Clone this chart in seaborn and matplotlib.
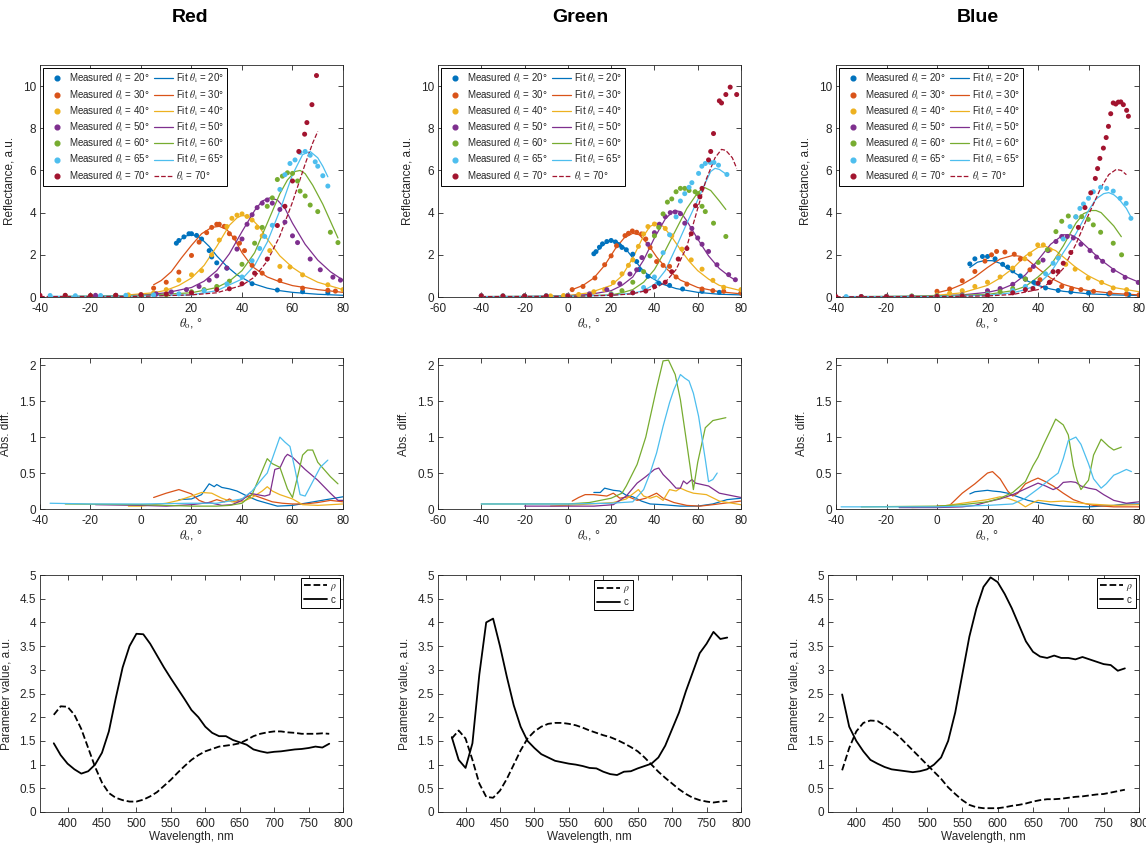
import matplotlib
matplotlib.use('Agg')
import matplotlib.pyplot as plt
import seaborn as sns
from matplotlib.ticker import FormatStrFormatter, MultipleLocator
from matplotlib.lines import Line2D

# ---------------- categories ----------------
channels = ['Red', 'Green', 'Blue']
angles = [20, 30, 40, 50, 60, 65, 70]
colors = ['#0072BD', '#D95319', '#EDB120', '#7E2F8E', '#77AC30', '#4DBEEE', '#A2142F']

# ---------------- RED: measured / fit ----------------
r20_mx = [14, 15, 17, 19, 20, 22, 24, 27, 28, 30, 34, 44, 54, 64, 74]
r20_my = [2.55, 2.68, 2.85, 3.0, 3.0, 2.92, 2.75, 2.2, 1.9, 1.62, 1.37, 0.63, 0.33, 0.25, 0.2]
r20_fx = [14, 16, 18, 20, 22, 24, 27, 30, 34, 38, 44, 50, 55, 60, 70, 80]
r20_fy = [2.5, 2.75, 2.9, 2.95, 2.9, 2.75, 2.4, 1.95, 1.45, 1.05, 0.65, 0.42, 0.3, 0.22, 0.13, 0.08]
r30_mx = [5, 10, 15, 20, 23, 26, 28, 30, 31, 33, 35, 37, 39, 41, 44, 48, 55, 64, 74, 77]
r30_my = [0.42, 0.7, 1.18, 1.97, 2.6, 3.05, 3.3, 3.45, 3.45, 3.35, 3.0, 2.8, 2.55, 2.2, 1.5, 1.13, 0.78, 0.42, 0.32, 0.28]
r30_fx = [5, 8, 12, 16, 20, 24, 28, 31, 34, 37, 40, 44, 50, 55, 60, 70, 80]
r30_fy = [0.58, 0.78, 1.2, 1.85, 2.45, 3.0, 3.3, 3.35, 3.2, 2.75, 2.1, 1.45, 0.95, 0.72, 0.54, 0.35, 0.22]
r40_mx = [-5, 0, 5, 10, 15, 20, 24, 28, 31, 34, 36, 38, 40, 42, 44, 46, 48, 51, 55, 59, 64, 74, 80]
r40_my = [0.1, 0.12, 0.2, 0.35, 0.8, 1.05, 1.25, 2.0, 2.7, 3.34, 3.73, 3.88, 3.94, 3.82, 3.65, 3.3, 2.9, 2.2, 1.45, 1.42, 1.05, 0.58, 0.35]
r40_fx = [-5, 5, 10, 15, 20, 25, 30, 35, 38, 40, 43, 47, 50, 55, 60, 65, 70, 80]
r40_fy = [0.1, 0.2, 0.32, 0.55, 0.9, 1.5, 2.4, 3.4, 3.75, 3.87, 3.8, 3.3, 2.75, 1.95, 1.4, 1.0, 0.7, 0.35]
r50_mx = [-18, -10, 0, 6, 12, 18, 23, 27, 30, 34, 38, 40, 42, 44, 46, 48, 50, 52, 55, 57, 60, 62, 67, 71, 76, 79]
r50_my = [0.08, 0.08, 0.1, 0.15, 0.24, 0.35, 0.5, 0.8, 1.0, 1.37, 2.27, 2.75, 3.45, 3.9, 4.24, 4.45, 4.6, 4.45, 4.15, 3.55, 2.9, 2.58, 1.8, 1.29, 0.94, 0.8]
r50_fx = [-18, 0, 10, 20, 25, 30, 35, 40, 45, 48, 51, 54, 57, 60, 65, 70, 75, 80]
r50_fy = [0.03, 0.08, 0.2, 0.45, 0.75, 1.25, 2.05, 3.1, 4.1, 4.55, 4.7, 4.6, 4.2, 3.5, 2.5, 1.75, 1.2, 0.8]
r60_mx = [-30, -20, -10, 0, 10, 20, 25, 30, 35, 40, 45, 48, 50, 52, 54, 56, 58, 60, 62, 63, 65, 67, 70, 75, 78]
r60_my = [0.07, 0.06, 0.07, 0.07, 0.1, 0.25, 0.35, 0.5, 0.75, 1.55, 2.55, 3.3, 4.3, 4.7, 5.57, 5.73, 5.89, 5.86, 5.5, 5.02, 4.79, 4.36, 4.05, 3.07, 2.58]
r60_fx = [-30, 0, 20, 30, 35, 40, 45, 50, 55, 58, 61, 63, 65, 68, 72, 75, 78]
r60_fy = [0.03, 0.07, 0.2, 0.45, 0.75, 1.25, 2.1, 3.5, 4.9, 5.55, 5.95, 6.0, 5.85, 5.3, 4.4, 3.6, 2.8]
r65_mx = [-36, -26, -16, -6, 5, 15, 25, 34, 40, 44, 47, 49, 52, 55, 57, 59, 61, 63, 65, 67, 69, 70, 72, 74]
r65_my = [0.07, 0.06, 0.07, 0.08, 0.1, 0.15, 0.3, 0.62, 0.95, 1.72, 2.3, 2.87, 3.4, 5.1, 5.8, 6.33, 6.5, 6.85, 6.9, 6.72, 6.41, 6.2, 5.75, 5.26]
r65_fx = [-36, 0, 20, 30, 40, 45, 50, 55, 60, 64, 67, 70, 72, 74]
r65_fy = [0.03, 0.05, 0.1, 0.3, 0.85, 1.5, 2.6, 4.1, 5.8, 6.75, 6.9, 6.6, 6.2, 5.7]
r70_mx = [-40, -30, -20, -10, 0, 10, 20, 30, 35, 40, 45, 50, 54, 57, 60, 62.5, 64.8, 65.7, 67.7, 69.5]
r70_my = [0.08, 0.08, 0.07, 0.08, 0.1, 0.14, 0.2, 0.35, 0.39, 0.63, 1.13, 1.8, 3.39, 4.3, 5.5, 6.9, 7.72, 8.27, 9.12, 10.5]
r70_fx = [-40, 0, 20, 30, 40, 45, 50, 55, 60, 65, 68, 70]
r70_fy = [0.02, 0.03, 0.1, 0.2, 0.55, 0.95, 1.7, 2.9, 4.5, 6.3, 7.3, 7.85]

# ---------------- RED: abs diff ----------------
rd20_x = [15, 20, 24, 27, 29, 30, 32, 35, 38, 42, 46, 50, 54, 60, 65, 70, 75, 80]
rd20_y = [0.13, 0.14, 0.2, 0.35, 0.31, 0.34, 0.3, 0.28, 0.25, 0.18, 0.12, 0.08, 0.04, 0.05, 0.08, 0.11, 0.14, 0.17]
rd30_x = [5, 10, 15, 20, 23, 26, 30, 33, 35, 37, 40, 44, 48, 52, 56, 60, 65, 70, 75, 80]
rd30_y = [0.16, 0.22, 0.27, 0.21, 0.12, 0.08, 0.13, 0.1, 0.14, 0.1, 0.14, 0.2, 0.15, 0.1, 0.08, 0.07, 0.07, 0.09, 0.12, 0.1]
rd40_x = [-5, 0, 10, 15, 20, 24, 28, 32, 36, 40, 44, 48, 50, 52, 55, 60, 64, 70, 80]
rd40_y = [0.04, 0.04, 0.08, 0.12, 0.18, 0.23, 0.22, 0.15, 0.1, 0.1, 0.16, 0.25, 0.31, 0.25, 0.2, 0.14, 0.06, 0.05, 0.07]
rd50_x = [-18, 0, 10, 20, 27, 32, 36, 40, 43, 46, 49, 51, 53, 55, 57, 58, 60, 65, 70, 75, 78, 80]
rd50_y = [0.06, 0.05, 0.04, 0.06, 0.09, 0.05, 0.06, 0.12, 0.22, 0.2, 0.18, 0.2, 0.55, 0.57, 0.72, 0.76, 0.72, 0.55, 0.4, 0.22, 0.12, 0.12]
rd60_x = [-30, 0, 20, 30, 35, 40, 44, 47, 50, 52, 55, 58, 60, 62, 64, 66, 68, 70, 75, 78]
rd60_y = [0.07, 0.06, 0.04, 0.04, 0.05, 0.08, 0.2, 0.45, 0.7, 0.63, 0.58, 0.28, 0.16, 0.45, 0.75, 0.82, 0.82, 0.65, 0.45, 0.35]
rd65_x = [-36, -20, 0, 20, 30, 40, 44, 48, 50, 53, 55, 57, 59, 61, 63, 65, 68, 71, 74]
rd65_y = [0.08, 0.07, 0.07, 0.08, 0.08, 0.14, 0.25, 0.42, 0.5, 0.8, 1.0, 0.93, 0.87, 0.55, 0.2, 0.18, 0.38, 0.58, 0.68]

# ---------------- GREEN: measured / fit ----------------
g20_mx = [12, 13, 14.6, 16, 18, 20, 22, 23.5, 25, 27, 30, 31.8, 33, 37, 42, 47, 53, 62, 70, 80]
g20_my = [2.05, 2.15, 2.36, 2.52, 2.63, 2.68, 2.61, 2.47, 2.35, 2.24, 2.03, 1.68, 1.3, 0.98, 0.66, 0.55, 0.38, 0.27, 0.22, 0.19]
g20_fx = [12, 15, 18, 21, 24, 27, 30, 34, 38, 44, 50, 60, 70, 80]
g20_fy = [2.0, 2.35, 2.6, 2.68, 2.55, 2.25, 1.85, 1.35, 0.95, 0.6, 0.4, 0.22, 0.13, 0.1]
g30_mx = [2, 7, 12.5, 17, 20, 22.5, 26.4, 28, 29.8, 31.8, 34, 36, 38, 41, 44, 47, 50, 55, 62, 67, 72, 80]
g30_my = [0.35, 0.5, 0.9, 1.53, 1.95, 2.43, 2.91, 3.02, 3.13, 3.07, 2.99, 2.75, 2.35, 1.68, 1.5, 1.45, 0.95, 0.61, 0.38, 0.3, 0.27, 0.19]
g30_fx = [2, 7, 12, 17, 22, 26, 30, 33, 37, 41, 46, 52, 60, 70, 80]
g30_fy = [0.35, 0.55, 0.9, 1.5, 2.3, 2.8, 3.02, 2.95, 2.5, 1.9, 1.3, 0.8, 0.45, 0.25, 0.15]
g40_mx = [-8, -2, 5, 12, 17, 21, 25, 28, 30, 32.6, 35, 37, 40, 42, 45, 48, 52.7, 57, 62, 67, 72, 80]
g40_my = [0.05, 0.07, 0.12, 0.25, 0.35, 0.69, 1.1, 1.5, 1.76, 2.4, 2.99, 3.34, 3.46, 3.37, 3.25, 2.9, 2.27, 1.76, 1.32, 0.79, 0.46, 0.35]
g40_fx = [-8, 0, 10, 20, 25, 30, 35, 38, 41, 44, 48, 52, 56, 60, 65, 70, 80]
g40_fy = [0.03, 0.07, 0.2, 0.55, 1.0, 1.85, 2.9, 3.35, 3.5, 3.35, 2.85, 2.25, 1.7, 1.25, 0.85, 0.55, 0.3]
g50_mx = [-20, -10, 0, 10, 18, 24, 28.7, 31.8, 34.2, 37, 40, 42.3, 45, 47.3, 49.6, 52, 54, 57.3, 60, 62, 65, 68.9, 74.3, 77.4]
g50_my = [0.05, 0.05, 0.08, 0.15, 0.35, 0.63, 1.09, 1.29, 1.87, 2.5, 3.05, 3.45, 3.81, 4.0, 4.03, 3.95, 3.5, 3.25, 2.8, 2.5, 2.16, 1.53, 1.06, 0.82]
g50_fx = [-20, 0, 10, 20, 25, 30, 35, 40, 45, 49, 52, 55, 60, 65, 70, 75, 77.4]
g50_fy = [0.02, 0.06, 0.12, 0.3, 0.55, 0.95, 1.75, 2.8, 3.7, 4.1, 4.05, 3.6, 2.75, 1.95, 1.35, 0.95, 0.8]
g60_mx = [-40, -30, -20, -10, 0, 10, 20, 25, 30, 35, 38, 40, 42, 44, 46, 48, 50, 52, 54, 56, 58.8, 60, 62, 63.5, 67.3, 73]
g60_my = [0.05, 0.05, 0.05, 0.05, 0.06, 0.08, 0.15, 0.3, 0.7, 1.2, 1.95, 2.9, 3.3, 3.94, 4.5, 4.65, 4.99, 5.15, 5.15, 5.05, 4.99, 4.9, 4.3, 4.05, 3.5, 2.87]
g60_fx = [-40, 0, 20, 25, 30, 35, 40, 45, 50, 55, 60, 63, 66, 70, 73]
g60_fy = [0.02, 0.04, 0.1, 0.2, 0.35, 0.7, 1.3, 2.2, 3.2, 4.2, 4.95, 5.2, 5.05, 4.55, 4.15]
g65_mx = [-40, -30, -20, -10, 0, 10, 20, 30, 35, 40, 44, 47, 50, 52, 54, 56, 57.3, 60.4, 61.9, 63.5, 65.8, 67.5, 69.6, 73.5]
g65_my = [0.06, 0.05, 0.05, 0.06, 0.06, 0.08, 0.12, 0.2, 0.45, 0.95, 2.1, 2.95, 3.8, 4.55, 4.9, 5.2, 5.42, 5.86, 6.2, 6.33, 6.38, 6.38, 6.25, 5.81]
g65_fx = [-40, 0, 20, 30, 35, 40, 45, 50, 55, 60, 63, 66, 68, 70, 73.5]
g65_fy = [0.02, 0.04, 0.08, 0.18, 0.3, 0.6, 1.25, 2.35, 3.5, 4.6, 5.3, 5.95, 6.1, 6.05, 5.8]
g70_mx = [-40, -30, -20, -10, 0, 10, 20, 30, 36, 40, 45, 48, 51, 55, 57, 59, 61, 62, 65, 66, 67.3, 70, 71, 73, 75, 78]
g70_my = [0.06, 0.05, 0.05, 0.05, 0.05, 0.08, 0.1, 0.2, 0.28, 0.5, 0.7, 1.2, 1.8, 2.3, 3.0, 4.33, 4.75, 5.15, 6.5, 6.9, 7.75, 9.3, 9.2, 9.6, 9.95, 9.6]
g70_fx = [-40, 0, 20, 30, 40, 45, 50, 55, 60, 64, 68, 71, 73, 76, 78]
g70_fy = [0.02, 0.03, 0.08, 0.15, 0.4, 0.7, 1.3, 2.4, 4.2, 5.6, 6.6, 7.0, 6.95, 6.6, 6.1]

# ---------------- GREEN: abs diff ----------------
gd20_x = [12, 15, 17, 21, 24, 27, 30, 34, 38, 44, 52, 60, 67, 73.5, 80]
gd20_y = [0.23, 0.23, 0.29, 0.26, 0.25, 0.19, 0.17, 0.11, 0.07, 0.06, 0.04, 0.04, 0.07, 0.13, 0.15]
gd30_x = [2, 5, 8, 12, 18, 21, 24, 28, 32, 36, 41, 44, 49, 55, 61, 67, 80]
gd30_y = [0.11, 0.16, 0.2, 0.2, 0.18, 0.22, 0.15, 0.17, 0.12, 0.15, 0.22, 0.15, 0.09, 0.05, 0.04, 0.06, 0.11]
gd40_x = [-8, 5, 21, 27, 32.6, 35, 38, 41, 44, 47, 50, 52, 55, 58, 64, 70, 80]
gd40_y = [0.04, 0.06, 0.09, 0.14, 0.27, 0.18, 0.15, 0.18, 0.12, 0.27, 0.25, 0.29, 0.25, 0.22, 0.2, 0.11, 0.06]
gd50_x = [-20, 0, 12, 21, 27, 32, 36, 40, 42, 44, 47, 50, 52, 53.4, 55, 57.3, 59, 65, 70, 80]
gd50_y = [0.04, 0.04, 0.04, 0.06, 0.18, 0.36, 0.45, 0.55, 0.57, 0.48, 0.39, 0.29, 0.29, 0.39, 0.35, 0.41, 0.36, 0.32, 0.22, 0.16]
gd60_x = [-40, -20, 0, 10, 20, 25, 27, 30, 32, 36, 41, 44, 46.5, 49.6, 52, 55, 58, 60, 63.5, 67, 73]
gd60_y = [0.07, 0.07, 0.07, 0.09, 0.15, 0.22, 0.32, 0.5, 0.62, 1.0, 1.68, 2.06, 2.07, 1.87, 1.52, 0.9, 0.27, 0.65, 1.13, 1.23, 1.27]
gd65_x = [-40, -20, 0, 20, 30, 35, 38, 41, 44, 47, 49, 52, 54, 56, 58, 60.4, 63.5, 65, 67, 69]
gd65_y = [0.07, 0.07, 0.07, 0.08, 0.1, 0.27, 0.5, 0.78, 1.15, 1.48, 1.66, 1.87, 1.82, 1.78, 1.61, 1.29, 0.69, 0.38, 0.41, 0.5]

# ---------------- BLUE: measured / fit ----------------
b20_mx = [13, 15, 18, 20, 23, 26, 28, 30, 33, 35, 38.4, 43, 48, 53, 60, 68, 76]
b20_my = [1.57, 1.81, 1.92, 1.92, 1.81, 1.55, 1.42, 1.24, 1.0, 0.85, 0.69, 0.43, 0.31, 0.24, 0.19, 0.14, 0.11]
b20_fx = [13, 16, 19, 22, 25, 28, 32, 36, 40, 45, 50, 60, 70, 80]
b20_fy = [1.4, 1.65, 1.73, 1.72, 1.6, 1.35, 1.05, 0.75, 0.55, 0.38, 0.27, 0.15, 0.1, 0.07]
b30_mx = [0, 5, 10, 15, 19, 21.6, 23.6, 26.9, 30.6, 33, 36.8, 40.8, 44.8, 49.4, 53.3, 57, 62, 68.5, 75, 80]
b30_my = [0.27, 0.38, 0.77, 1.21, 1.7, 2.0, 2.16, 2.13, 2.03, 1.8, 1.29, 0.82, 0.71, 0.5, 0.39, 0.35, 0.27, 0.19, 0.14, 0.1]
b30_fx = [0, 5, 10, 15, 20, 25, 30, 33, 36, 40, 45, 50, 55, 60, 70, 80]
b30_fy = [0.2, 0.35, 0.6, 0.95, 1.4, 1.8, 1.97, 1.93, 1.75, 1.35, 0.9, 0.6, 0.42, 0.3, 0.17, 0.1]
b40_mx = [-10, 0, 5, 10, 15, 20, 25, 30, 34.8, 36.8, 39.9, 42.1, 44.8, 48, 51, 54.7, 59.9, 65.2, 69.8, 75.1]
b40_my = [0.03, 0.1, 0.18, 0.3, 0.5, 0.7, 0.95, 1.37, 1.81, 2.03, 2.47, 2.47, 2.24, 1.9, 1.55, 1.32, 0.9, 0.69, 0.43, 0.35]
b40_fx = [-10, 0, 10, 20, 25, 30, 35, 40, 43, 47, 50, 55, 60, 65, 70, 80]
b40_fy = [0.02, 0.08, 0.2, 0.55, 0.9, 1.35, 1.95, 2.35, 2.4, 2.2, 1.9, 1.4, 1.0, 0.7, 0.45, 0.25]
b50_mx = [-20, -10, 0, 10, 20, 25, 30, 35, 38.2, 42, 44, 47.1, 49.4, 51.6, 54, 57, 60.6, 63.2, 65.6, 69.8, 74.5, 79.7]
b50_my = [0.03, 0.03, 0.05, 0.1, 0.3, 0.4, 0.6, 0.85, 1.45, 1.75, 2.2, 2.63, 2.87, 2.87, 2.8, 2.5, 2.2, 1.89, 1.69, 1.26, 0.93, 0.69]
b50_fx = [-20, 0, 10, 20, 25, 30, 35, 40, 45, 50, 53, 56, 60, 65, 70, 75, 80]
b50_fy = [0.02, 0.05, 0.1, 0.22, 0.35, 0.6, 1.05, 1.75, 2.5, 2.95, 2.95, 2.75, 2.3, 1.75, 1.3, 0.95, 0.7]
b60_mx = [-30, -20, -10, 0, 10, 20, 25, 30, 35, 40.1, 43.7, 47.1, 49.4, 52, 55, 57.3, 59.9, 61.9, 64.8, 69.8, 73.1]
b60_my = [0.02, 0.03, 0.05, 0.05, 0.08, 0.15, 0.25, 0.4, 0.85, 1.64, 2.24, 3.1, 3.59, 3.84, 3.8, 3.81, 3.68, 3.42, 3.07, 2.55, 2.0]
b60_fx = [-30, 0, 20, 30, 35, 40, 45, 50, 55, 58, 61, 63, 65, 70, 73]
b60_fy = [0.02, 0.05, 0.12, 0.3, 0.5, 0.95, 1.5, 2.42, 3.5, 3.95, 4.1, 4.1, 4.0, 3.37, 2.86]
b65_mx = [-36, -30, -20, -10, 0, 10, 20, 30, 35, 40, 43, 46, 48, 50, 52.7, 55, 56.6, 58, 60, 61.9, 64.8, 67.2, 69.8, 72.5, 74.9, 76.8]
b65_my = [0.02, 0.02, 0.02, 0.03, 0.04, 0.06, 0.12, 0.3, 0.5, 0.65, 1.1, 1.6, 1.85, 2.75, 3.34, 3.8, 4.2, 4.41, 4.68, 4.99, 5.2, 5.15, 5.02, 4.68, 4.44, 3.73]
b65_fx = [-36, 0, 20, 30, 35, 40, 45, 50, 55, 60, 63, 66, 68, 70, 72, 75, 77]
b65_fy = [0.02, 0.03, 0.08, 0.2, 0.35, 0.6, 1.15, 2.1, 3.0, 4.1, 4.65, 4.9, 4.95, 4.85, 4.65, 4.2, 3.75]
b70_mx = [-40, -30, -20, -10, 0, 10, 20, 30, 35, 38, 40, 44.5, 46, 48, 50, 53, 56, 58.6, 60.9, 62.7, 63.6, 64.5,
          65.9, 67, 67.9, 68.8, 69.8, 70.8, 71.8, 72.8, 73.8, 75.1, 75.8]
b70_my = [0.02, 0.02, 0.02, 0.02, 0.03, 0.05, 0.08, 0.2, 0.35, 0.4, 0.65, 0.69, 1.2, 1.21, 1.6, 2.11, 3.3, 4.24, 4.94, 5.62, 6.09, 6.57,
          7.06, 7.56, 8.09, 8.69, 9.2, 9.15, 9.24, 9.25, 9.12, 8.85, 8.57]
b70_fx = [-40, 0, 20, 30, 40, 45, 50, 55, 60, 65, 68, 71, 73, 75]
b70_fy = [0.01, 0.02, 0.05, 0.12, 0.35, 0.7, 1.35, 2.5, 3.9, 5.2, 5.8, 6.05, 6.0, 5.8]

# ---------------- BLUE: abs diff ----------------
bd20_x = [13, 15, 20, 22, 25, 28, 32, 36, 40, 45, 50, 60, 70, 75, 80]
bd20_y = [0.21, 0.24, 0.26, 0.25, 0.24, 0.22, 0.17, 0.12, 0.09, 0.06, 0.04, 0.03, 0.05, 0.07, 0.07]
bd30_x = [0, 5, 10, 15, 20, 22, 25, 28, 30, 32, 35, 38, 40, 43, 46, 50, 54, 58, 62, 70, 80]
bd30_y = [0.04, 0.05, 0.22, 0.35, 0.5, 0.52, 0.42, 0.25, 0.18, 0.22, 0.35, 0.4, 0.43, 0.38, 0.32, 0.22, 0.13, 0.08, 0.05, 0.03, 0.03]
bd40_x = [-10, 0, 10, 20, 25, 28, 32, 35, 38, 40, 45, 50, 55, 60, 70, 80]
bd40_y = [0.02, 0.03, 0.08, 0.13, 0.17, 0.15, 0.1, 0.03, 0.09, 0.12, 0.1, 0.11, 0.09, 0.07, 0.05, 0.06]
bd50_x = [-15, 0, 10, 15, 20, 25, 30, 35, 40, 43, 46, 48, 50, 53, 55, 57, 60, 63, 66, 70, 75, 80]
bd50_y = [0.02, 0.02, 0.03, 0.05, 0.1, 0.14, 0.2, 0.28, 0.36, 0.32, 0.27, 0.3, 0.37, 0.38, 0.37, 0.32, 0.29, 0.27, 0.2, 0.12, 0.08, 0.1]
bd60_x = [-30, 0, 10, 20, 25, 30, 35, 38, 40, 42, 45, 47, 50, 52, 54, 55.5, 57, 60, 62, 65, 68, 70, 73]
bd60_y = [0.03, 0.04, 0.06, 0.1, 0.15, 0.23, 0.38, 0.6, 0.72, 0.88, 1.1, 1.25, 1.17, 1.03, 0.6, 0.4, 0.27, 0.4, 0.75, 0.97, 0.87, 0.82, 0.86]
bd65_x = [-38, 0, 20, 30, 35, 40, 45, 48, 50, 52, 55, 57, 60, 62, 65, 67, 70, 72, 75, 77]
bd65_y = [0.03, 0.03, 0.05, 0.07, 0.15, 0.28, 0.42, 0.5, 0.7, 0.95, 1.0, 0.9, 0.63, 0.42, 0.29, 0.35, 0.47, 0.5, 0.55, 0.52]

# ---------------- parameter spectra ----------------
wavelength = [380, 390, 400, 410, 420, 430, 440, 450, 460, 470, 480, 490, 500, 510, 520, 530, 540, 550, 560, 570,
              580, 590, 600, 610, 620, 630, 640, 650, 660, 670, 680, 690, 700, 710, 720, 730, 740, 750, 760, 770, 780]
red_c = [1.45, 1.2, 1.02, 0.9, 0.81, 0.86, 1.0, 1.25, 1.7, 2.4, 3.05, 3.5, 3.76, 3.75, 3.55, 3.3, 3.05, 2.82, 2.6, 2.38,
         2.15, 2.0, 1.8, 1.67, 1.6, 1.6, 1.52, 1.47, 1.42, 1.32, 1.28, 1.25, 1.27, 1.28, 1.3, 1.32, 1.33, 1.35, 1.38, 1.36, 1.44]
red_rho = [2.05, 2.23, 2.22, 2.05, 1.75, 1.35, 0.95, 0.62, 0.4, 0.3, 0.25, 0.22, 0.22, 0.26, 0.33, 0.42, 0.55, 0.68, 0.83, 0.97,
           1.1, 1.2, 1.28, 1.33, 1.38, 1.4, 1.42, 1.45, 1.52, 1.6, 1.65, 1.68, 1.7, 1.7, 1.68, 1.67, 1.65, 1.65, 1.65, 1.66, 1.65]
green_c = [1.58, 1.1, 0.93, 1.45, 2.9, 4.0, 4.08, 3.5, 2.85, 2.25, 1.8, 1.5, 1.35, 1.22, 1.15, 1.08, 1.05, 1.02, 1.0, 0.97,
           0.93, 0.92, 0.85, 0.8, 0.78, 0.85, 0.86, 0.92, 0.97, 1.02, 1.15, 1.4, 1.75, 2.1, 2.55, 2.95, 3.35, 3.55, 3.8, 3.65, 3.68]
green_rho = [1.55, 1.72, 1.55, 1.1, 0.6, 0.32, 0.3, 0.45, 0.7, 1.0, 1.3, 1.55, 1.7, 1.8, 1.86, 1.88, 1.88, 1.86, 1.83, 1.78,
             1.72, 1.67, 1.62, 1.58, 1.52, 1.45, 1.37, 1.28, 1.15, 1.0, 0.85, 0.72, 0.6, 0.48, 0.38, 0.3, 0.25, 0.22, 0.2, 0.22, 0.23]
blue_c = [2.48, 1.8, 1.5, 1.28, 1.1, 1.02, 0.95, 0.9, 0.88, 0.86, 0.84, 0.86, 0.9, 1.0, 1.15, 1.5, 2.1, 2.9, 3.7, 4.3,
          4.75, 4.95, 4.85, 4.6, 4.3, 3.95, 3.6, 3.38, 3.28, 3.25, 3.3, 3.25, 3.25, 3.22, 3.27, 3.22, 3.17, 3.12, 3.1, 2.98, 3.03]
blue_rho = [0.88, 1.35, 1.7, 1.88, 1.93, 1.92, 1.83, 1.72, 1.6, 1.45, 1.3, 1.15, 1.0, 0.85, 0.7, 0.52, 0.38, 0.25, 0.15, 0.1,
            0.08, 0.08, 0.08, 0.1, 0.13, 0.15, 0.18, 0.22, 0.25, 0.27, 0.27, 0.28, 0.3, 0.32, 0.33, 0.35, 0.37, 0.38, 0.41, 0.44, 0.47]

# ---------------- assemble tables ----------------
meas = {
    'Red': [(r20_mx, r20_my), (r30_mx, r30_my), (r40_mx, r40_my), (r50_mx, r50_my), (r60_mx, r60_my), (r65_mx, r65_my), (r70_mx, r70_my)],
    'Green': [(g20_mx, g20_my), (g30_mx, g30_my), (g40_mx, g40_my), (g50_mx, g50_my), (g60_mx, g60_my), (g65_mx, g65_my), (g70_mx, g70_my)],
    'Blue': [(b20_mx, b20_my), (b30_mx, b30_my), (b40_mx, b40_my), (b50_mx, b50_my), (b60_mx, b60_my), (b65_mx, b65_my), (b70_mx, b70_my)],
}
fits = {
    'Red': [(r20_fx, r20_fy), (r30_fx, r30_fy), (r40_fx, r40_fy), (r50_fx, r50_fy), (r60_fx, r60_fy), (r65_fx, r65_fy), (r70_fx, r70_fy)],
    'Green': [(g20_fx, g20_fy), (g30_fx, g30_fy), (g40_fx, g40_fy), (g50_fx, g50_fy), (g60_fx, g60_fy), (g65_fx, g65_fy), (g70_fx, g70_fy)],
    'Blue': [(b20_fx, b20_fy), (b30_fx, b30_fy), (b40_fx, b40_fy), (b50_fx, b50_fy), (b60_fx, b60_fy), (b65_fx, b65_fy), (b70_fx, b70_fy)],
}
diffs = {
    'Red': [(rd20_x, rd20_y), (rd30_x, rd30_y), (rd40_x, rd40_y), (rd50_x, rd50_y), (rd60_x, rd60_y), (rd65_x, rd65_y)],
    'Green': [(gd20_x, gd20_y), (gd30_x, gd30_y), (gd40_x, gd40_y), (gd50_x, gd50_y), (gd60_x, gd60_y), (gd65_x, gd65_y)],
    'Blue': [(bd20_x, bd20_y), (bd30_x, bd30_y), (bd40_x, bd40_y), (bd50_x, bd50_y), (bd60_x, bd60_y), (bd65_x, bd65_y)],
}
params = {'Red': (red_rho, red_c), 'Green': (green_rho, green_c), 'Blue': (blue_rho, blue_c)}
xlims = {'Red': (-40, 80), 'Green': (-60, 80), 'Blue': (-40, 80)}

# ---------------- style ----------------
sns.set_theme(style='ticks')
plt.rcParams['font.family'] = ['Liberation Sans', 'DejaVu Sans']
plt.rcParams['mathtext.fontset'] = 'stix'
plt.rcParams['axes.unicode_minus'] = False
AX_COL = '#262626'
plt.rcParams.update({
    'axes.edgecolor': AX_COL, 'axes.linewidth': 0.6,
    'xtick.color': AX_COL, 'ytick.color': AX_COL,
    'xtick.labelcolor': AX_COL, 'ytick.labelcolor': AX_COL,
    'axes.labelcolor': AX_COL,
})

W, H = 1146, 848
fig = plt.figure(figsize=(W / 100, H / 100), dpi=100)


def px_axes(left, top, right, bottom):
    return fig.add_axes([left / W, 1 - bottom / H, (right - left) / W, (bottom - top) / H])


def style(ax):
    ax.tick_params(direction='in', top=True, right=True, length=3.5, width=0.6, labelsize=8.5)
    ax.tick_params(axis='x', pad=4)
    ax.tick_params(axis='y', pad=3)
    for s in ax.spines.values():
        s.set_visible(True)
        s.set_color(AX_COL)
        s.set_linewidth(0.6)


col_left = {'Red': 40, 'Green': 438, 'Blue': 836}
title_x = {'Red': 190, 'Green': 580, 'Blue': 978}

for ch in channels:
    L = col_left[ch]
    # ---------- top: reflectance ----------
    ax = px_axes(L, 65, L + 303, 297)
    m_handles, f_handles = [], []
    for i, ang in enumerate(angles):
        mx, my = meas[ch][i]
        fx, fy = fits[ch][i]
        ls = '--' if ang == 70 else '-'
        sns.lineplot(x=fx, y=fy, ax=ax, color=colors[i], lw=0.9, linestyle=ls, estimator=None, sort=False)
        sns.scatterplot(x=mx, y=my, ax=ax, color=colors[i], s=13, edgecolor='none', zorder=3)
        m_handles.append(Line2D([], [], marker='o', ls='none', color=colors[i], markersize=3.4))
        f_handles.append(Line2D([], [], color=colors[i], lw=0.9, linestyle=ls))
    m_labels = [r'Measured $\theta_{\mathrm{i}}$ = %d°' % a for a in angles]
    f_labels = [r'Fit $\theta_{\mathrm{i}}$ = %d°' % a for a in angles[:-1]] + [r'$\theta_{\mathrm{i}}$ = 70°']
    leg = ax.legend(m_handles + f_handles, m_labels + f_labels, loc='upper left', ncol=2, fontsize=7,
                    frameon=True, fancybox=False, edgecolor='black', framealpha=1, borderpad=0.35,
                    labelspacing=0.28, handlelength=2.0, handletextpad=0.3, columnspacing=0.4,
                    borderaxespad=0.35)
    leg.get_frame().set_linewidth(0.7)
    ax.set_xlim(*xlims[ch])
    ax.set_ylim(0, 11)
    ax.xaxis.set_major_locator(MultipleLocator(20))
    ax.yaxis.set_major_locator(MultipleLocator(2))
    ax.set_xlabel(r'$\theta_{\mathrm{o}}$, °', fontsize=9, labelpad=1)
    ax.set_ylabel('Reflectance, a.u.', fontsize=8.5, labelpad=5)
    style(ax)
    fig.text(title_x[ch] / W, 1 - 17 / H, ch, ha='center', va='center', fontsize=14, fontweight='bold', color='black')

    # ---------- middle: abs diff ----------
    ax = px_axes(L, 358, L + 303, 509)
    for i in range(6):
        dx, dy = diffs[ch][i]
        sns.lineplot(x=dx, y=dy, ax=ax, color=colors[i], lw=0.9, estimator=None, sort=False)
    ax.set_xlim(*xlims[ch])
    ax.set_ylim(0, 2.1)
    ax.xaxis.set_major_locator(MultipleLocator(20))
    ax.set_yticks([0, 0.5, 1, 1.5, 2])
    ax.yaxis.set_major_formatter(FormatStrFormatter('%g'))
    ax.set_xlabel(r'$\theta_{\mathrm{o}}$, °', fontsize=9, labelpad=1)
    ax.set_ylabel('Abs. diff.', fontsize=8.5, labelpad=5)
    style(ax)

    # ---------- bottom: parameters ----------
    bl = 828 if ch == 'Blue' else L
    ax = px_axes(bl, 575, L + 303, 812)
    rho, cval = params[ch]
    sns.lineplot(x=wavelength, y=rho, ax=ax, color='black', lw=1.3, linestyle='--', estimator=None, sort=False)
    sns.lineplot(x=wavelength, y=cval, ax=ax, color='black', lw=1.3, estimator=None, sort=False)
    h = [Line2D([], [], color='black', lw=1.3, linestyle='--'), Line2D([], [], color='black', lw=1.3)]
    if ch == 'Green':
        leg = ax.legend(h, [r'$\rho$', 'c'], loc='upper center', bbox_to_anchor=(0.58, 0.985), fontsize=7,
                        frameon=True, fancybox=False, edgecolor='black', framealpha=1, handlelength=2.4,
                        handletextpad=0.3, borderpad=0.3, labelspacing=0.2, borderaxespad=0.2)
    else:
        leg = ax.legend(h, [r'$\rho$', 'c'], loc='upper right', fontsize=7,
                        frameon=True, fancybox=False, edgecolor='black', framealpha=1, handlelength=2.4,
                        handletextpad=0.3, borderpad=0.3, labelspacing=0.2, borderaxespad=0.3)
    leg.get_frame().set_linewidth(0.7)
    ax.set_xlim(360, 800)
    ax.set_ylim(0, 5)
    ax.xaxis.set_major_locator(MultipleLocator(50))
    ax.yaxis.set_major_locator(MultipleLocator(0.5))
    ax.yaxis.set_major_formatter(FormatStrFormatter('%g'))
    ax.set_xlabel('Wavelength, nm', fontsize=8.5, labelpad=1)
    ax.set_ylabel('Parameter value, a.u.', fontsize=8.5, labelpad=5)
    style(ax)

fig.savefig('out.png', dpi=100)
